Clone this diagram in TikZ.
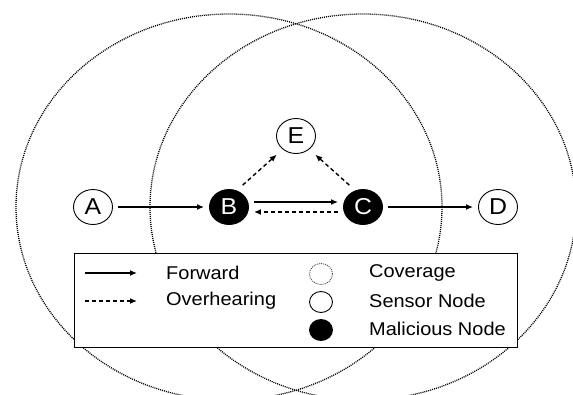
\documentclass[tikz,border=0pt]{standalone}
\usepackage{fontspec}
\setmainfont{Liberation Sans}[FakeStretch=1.08]
\usepackage{tikz}
\usetikzlibrary{arrows.meta,positioning,calc,shapes.geometric}
\tikzset{
  snode/.style={draw, ellipse, minimum width=39pt, minimum height=35pt, inner sep=0pt,
                fill=white, line width=0.9pt, font=\fontsize{23}{23}\selectfont},
  mnode/.style={snode, fill=black, text=white},
  cover/.style={draw=black, line width=1.3pt, dash pattern=on 1pt off 1pt},
  lgarrow/.style={-{Latex[length=7pt,width=6pt]}, line width=1.4pt},
  fwd/.style={lgarrow, shorten >=5pt, shorten <=5pt},
  ovh/.style={fwd, dash pattern=on 4pt off 3pt},
  lgtext/.style={anchor=west, inner sep=0pt, font=\fontsize{18.5}{18.5}\selectfont},
  lgdot/.style={draw, ellipse, minimum width=23pt, minimum height=21pt, inner sep=0pt, line width=0.9pt},
}

\begin{document}
\begin{tikzpicture}[x=1pt, y=-1pt]
  \useasboundingbox (0,0) rectangle (573,394);

  % sensor field
  \node[snode] (A) at (93,207) {A};
  \node[mnode] (B) at (229,207) {B};
  \node[mnode] (C) at (363,207) {C};
  \node[snode] (D) at (498,207) {D};
  \node[snode] (E) at (296,136) {E};

  % radio range of the two malicious nodes
  \draw[cover] (B) ellipse [x radius=213, y radius=193];
  \draw[cover] (C) ellipse [x radius=213, y radius=193];

  \draw[fwd] (A) -- (B);
  \draw[fwd] ([yshift=5pt]B.east) -- ([yshift=5pt]C.west);
  \draw[ovh] ([yshift=-5pt]C.west) -- ([yshift=-5pt]B.east);
  \draw[fwd] (C) -- (D);
  \draw[ovh, shorten <=8pt, shorten >=8pt] (B.65) -- (E.225);
  \draw[ovh, shorten <=8pt, shorten >=8pt] (C.115) -- (E.315);

  % legend
  \node[draw, fill=white, line width=1pt, anchor=north west,
        minimum width=443pt, minimum height=94pt] (legend) at (74,253) {};
  \coordinate (fwdS) at (85,273);
  \coordinate (fwdE) at (137,273);
  \coordinate (ovhS) at (85,301);
  \coordinate (ovhE) at (137,301);
  \draw[lgarrow] (fwdS) -- (fwdE);
  \draw[lgarrow, dash pattern=on 4pt off 3pt] (ovhS) -- (ovhE);
  \node[lgtext] (fwdT) at (166,273) {Forward};
  \node[lgtext] (ovhT) at (166,301) {Overhearing};

  \node[lgdot, cover, draw=black!70, line width=0.9pt] (covD) at (321,274) {};
  \node[lgdot] (senD) at (321,302) {};
  \node[lgdot, fill=black] (malD) at (321,330) {};
  \node[lgtext] (covT) at (369,273) {Coverage};
  \node[lgtext] (senT) at (369,301) {Sensor Node};
  \node[lgtext] (malT) at (369,329) {Malicious Node};
\end{tikzpicture}
\end{document}
